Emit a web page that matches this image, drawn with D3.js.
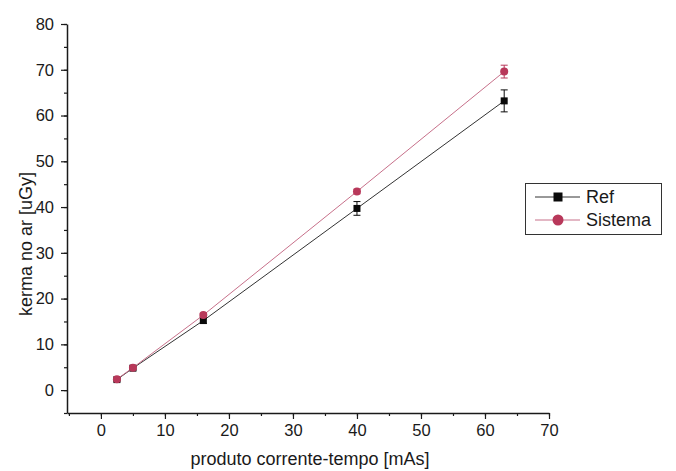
<!DOCTYPE html>
<html>
<head>
<meta charset="utf-8">
<script src="https://cdn.jsdelivr.net/npm/d3@7"></script>
<style>
  html, body { margin: 0; padding: 0; background: #fff; }
  svg { display: block; font-family: "Liberation Sans", Arial, sans-serif; }
</style>
</head>
<body>
<svg id="chart" width="676" height="471"></svg>
<script>
// Air kerma versus current-time product, two measurement series
const mAs = [2.5, 5, 16, 40, 63];
const refValues = [2.3, 4.8, 15.2, 39.7, 63.2];
const refErrors = [0.3, 0.4, 0.6, 1.5, 2.4];
const sistemaValues = [2.4, 4.9, 16.4, 43.4, 69.6];
const sistemaErrors = [0.2, 0.3, 0.4, 0.5, 1.4];
const seriesNames = ["Ref", "Sistema"];
const xTicks = [0, 10, 20, 30, 40, 50, 60, 70];
const yTicks = [0, 10, 20, 30, 40, 50, 60, 70, 80];

const svg = d3.select("#chart");
const plotLeft = 67, plotRight = 549, plotTop = 24, plotBottom = 413;

const x = d3.scaleLinear().domain([-5.3, 70]).range([plotLeft, plotRight]);
const y = d3.scaleLinear().domain([-5, 80]).range([plotBottom, plotTop]);

const ink = "#1a1a1a";

// Axes with major and minor ticks
function minor(step, dom) {
  const out = [];
  for (let v = Math.ceil(dom[0] / step) * step; v <= dom[1] + 1e-9; v += step) out.push(v);
  return out;
}

const gx = svg.append("g").attr("transform", `translate(0,${plotBottom})`);
gx.call(d3.axisBottom(x).tickValues(minor(5, x.domain())).tickSize(3).tickFormat(""));
gx.call(g => g.select(".domain").remove());
const gxMaj = svg.append("g").attr("transform", `translate(0,${plotBottom})`)
  .call(d3.axisBottom(x).tickValues(xTicks).tickSize(6).tickSizeOuter(0).tickPadding(5));
gxMaj.select(".domain").attr("stroke-width", 1.5);
gxMaj.selectAll("text").attr("font-size", 16.5).attr("fill", ink);

const gy = svg.append("g").attr("transform", `translate(${plotLeft},0)`);
gy.call(d3.axisLeft(y).tickValues(minor(5, y.domain())).tickSize(3).tickFormat(""));
gy.call(g => g.select(".domain").remove());
const gyMaj = svg.append("g").attr("transform", `translate(${plotLeft},0)`)
  .call(d3.axisLeft(y).tickValues(yTicks).tickSize(6).tickSizeOuter(0).tickPadding(7));
gyMaj.select(".domain").attr("stroke-width", 1.5);
gyMaj.selectAll("text").attr("font-size", 16.5).attr("fill", ink);

svg.selectAll(".tick line").attr("stroke", ink).attr("stroke-width", 1.2);
svg.selectAll(".domain").attr("stroke", ink);

// Axis titles
svg.append("text")
  .attr("x", (plotLeft + plotRight) / 2 + 2).attr("y", 465)
  .attr("text-anchor", "middle").attr("font-size", 18).attr("fill", ink)
  .text("produto corrente-tempo [mAs]");
svg.append("text")
  .attr("transform", `translate(32,244) rotate(-90)`)
  .attr("text-anchor", "middle").attr("font-size", 18).attr("fill", ink)
  .text("kerma no ar [uGy]");

const series = [
  { name: seriesNames[0], vals: refValues, errs: refErrors, line: "#333333", fill: "#0a0a0a", shape: "square" },
  { name: seriesNames[1], vals: sistemaValues, errs: sistemaErrors, line: "#c7708a", fill: "#b8385a", shape: "circle" }
];

const line = d3.line().x(d => x(d[0])).y(d => y(d[1]));

series.forEach(s => {
  const pts = mAs.map((m, i) => [m, s.vals[i], s.errs[i]]);
  const g = svg.append("g");
  g.append("path").attr("d", line(pts)).attr("fill", "none")
    .attr("stroke", s.line).attr("stroke-width", 1);
  // error bars
  pts.forEach(p => {
    const cx = x(p[0]);
    g.append("line").attr("x1", cx).attr("x2", cx)
      .attr("y1", y(p[1] - p[2])).attr("y2", y(p[1] + p[2]))
      .attr("stroke", s.fill).attr("stroke-width", 1);
    [p[1] - p[2], p[1] + p[2]].forEach(v => {
      g.append("line").attr("x1", cx - 3.5).attr("x2", cx + 3.5)
        .attr("y1", y(v)).attr("y2", y(v))
        .attr("stroke", s.fill).attr("stroke-width", 1);
    });
  });
  // markers
  pts.forEach(p => {
    if (s.shape === "square") {
      g.append("rect").attr("x", x(p[0]) - 3.5).attr("y", y(p[1]) - 3.5)
        .attr("width", 7).attr("height", 7).attr("fill", s.fill);
    } else {
      g.append("circle").attr("cx", x(p[0])).attr("cy", y(p[1])).attr("r", 4)
        .attr("fill", s.fill);
    }
  });
});

// Legend
const lg = svg.append("g");
lg.append("rect").attr("x", 525.5).attr("y", 183.5).attr("width", 136).attr("height", 51)
  .attr("fill", "#fff").attr("stroke", "#333").attr("stroke-width", 1);
series.forEach((s, i) => {
  const cy = 197 + i * 23;
  lg.append("line").attr("x1", 535).attr("x2", 580).attr("y1", cy).attr("y2", cy)
    .attr("stroke", s.line).attr("stroke-width", 1);
  if (s.shape === "square") {
    lg.append("rect").attr("x", 558 - 4.5).attr("y", cy - 4.5).attr("width", 9).attr("height", 9).attr("fill", s.fill);
  } else {
    lg.append("circle").attr("cx", 558).attr("cy", cy).attr("r", 5.5).attr("fill", s.fill);
  }
  lg.append("text").attr("x", 586).attr("y", cy).attr("dy", "0.36em")
    .attr("font-size", 18).attr("fill", ink).text(s.name);
});
</script>
</body>
</html>
